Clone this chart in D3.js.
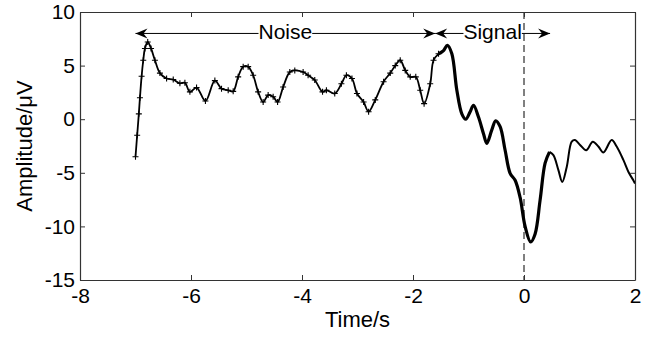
<!DOCTYPE html>
<html>
<head>
<meta charset="utf-8">
<script src="https://cdn.jsdelivr.net/npm/d3@7"></script>
<style>
  body { margin: 0; background: #fff; }
  text { font-family: "Liberation Sans", Arial, sans-serif; }
</style>
</head>
<body>
<div id="chart"></div>
<script>
// noise part (drawn with + markers)
var noiseT = [-7.0,-6.97,-6.94,-6.92,-6.89,-6.86,-6.83,-6.78,-6.72,-6.65,-6.56,-6.44,-6.32,-6.2,-6.11,-6.02,-5.9,-5.74,-5.57,-5.45,-5.33,-5.24,-5.15,-5.06,-4.97,-4.88,-4.79,-4.70,-4.61,-4.52,-4.44,-4.34,-4.22,-4.13,-3.98,-3.89,-3.77,-3.63,-3.56,-3.41,-3.29,-3.2,-3.1,-3.01,-2.89,-2.8,-2.68,-2.53,-2.41,-2.32,-2.23,-2.14,-2.05,-1.95,-1.87,-1.8,-1.69,-1.63,-1.54];
var noiseV = [-3.5,-1.5,0.5,2.0,4.0,5.5,6.6,7.2,6.6,5.5,4.3,3.8,3.7,3.35,3.4,2.55,2.95,1.7,3.6,2.85,2.7,2.6,3.95,4.9,4.9,4.1,2.55,1.6,2.25,2.1,1.6,3.0,4.4,4.55,4.4,4.1,3.65,2.55,2.7,2.4,3.3,4.1,3.8,2.4,1.6,0.7,1.8,3.5,4.3,5.0,5.5,4.55,3.95,3.95,2.7,1.45,3.3,5.5,6.1];

// signal part (thick)
var signalT = [-1.54,-1.45,-1.38,-1.3,-1.21,-1.12,-1.05,-0.97,-0.91,-0.82,-0.73,-0.67,-0.58,-0.51,-0.43,-0.34,-0.25,-0.16,-0.07,0.02,0.12,0.2,0.29,0.38,0.46];
var signalV = [6.1,6.4,6.9,6.1,2.7,0.5,0.0,0.7,1.3,0.2,-1.35,-2.25,-1.0,-0.15,-0.7,-2.9,-5.05,-5.7,-7.3,-10.0,-11.45,-10.7,-7.55,-4.1,-3.05];

// after the signal (thin)
var tailT = [0.46,0.53,0.62,0.69,0.77,0.86,0.92,1.01,1.12,1.24,1.34,1.43,1.58,1.67,1.79,1.88,1.97,2.0];
var tailV = [-3.05,-3.35,-4.75,-5.85,-4.45,-2.1,-1.95,-2.4,-2.9,-2.1,-2.55,-3.1,-1.95,-2.55,-3.8,-4.9,-5.7,-6.0];

var xTicks = [-8,-6,-4,-2,0,2];
var yTicks = [-15,-10,-5,0,5,10];

// annotation arrows: [start, end, label]
var noiseArrow = [-7.0, -1.6, "Noise"];
var signalArrow = [-1.6, 0.47, "Signal"];
var arrowY = 8;

var width = 655, height = 337;
var margin = {top: 12, right: 20, bottom: 57, left: 80};
var w = width - margin.left - margin.right;
var h = height - margin.top - margin.bottom;

var x = d3.scaleLinear().domain([-8, 2]).range([0, w]);
var y = d3.scaleLinear().domain([-15, 10]).range([h, 0]);

var svg = d3.select("#chart").append("svg")
  .attr("width", width)
  .attr("height", height);

var g = svg.append("g")
  .attr("transform", "translate(" + margin.left + "," + margin.top + ")");

function zip(ts, vs) { return ts.map(function(t, i) { return [t, vs[i]]; }); }

var line = d3.line()
  .x(function(d) { return x(d[0]); })
  .y(function(d) { return y(d[1]); })
  .curve(d3.curveCatmullRom);

var noise = zip(noiseT, noiseV);

g.append("path")
  .attr("d", line(zip(tailT, tailV)))
  .attr("fill", "none")
  .attr("stroke", "#000")
  .attr("stroke-width", 2);

g.append("path")
  .attr("d", line(zip(signalT, signalV)))
  .attr("fill", "none")
  .attr("stroke", "#000")
  .attr("stroke-width", 3.2)
  .attr("stroke-linejoin", "round");

g.append("path")
  .attr("d", line(noise))
  .attr("fill", "none")
  .attr("stroke", "#000")
  .attr("stroke-width", 1.8);

g.selectAll(".plus")
  .data(noise)
  .enter().append("path")
  .attr("class", "plus")
  .attr("transform", function(d) { return "translate(" + x(d[0]) + "," + y(d[1]) + ")"; })
  .attr("d", "M-3,0H3M0,-3V3")
  .attr("stroke", "#000")
  .attr("stroke-width", 1.1);

// arrows
function arrowHead(px, dir) {
  // dir = -1 left, +1 right
  var L = 12, W = 5, n = 4;
  return "M" + px + "," + y(arrowY) +
    "L" + (px - dir * L) + "," + (y(arrowY) - W) +
    "L" + (px - dir * (L - n)) + "," + y(arrowY) +
    "L" + (px - dir * L) + "," + (y(arrowY) + W) + "Z";
}

[noiseArrow, signalArrow].forEach(function(a) {
  var x0 = x(a[0]), x1 = x(a[1]);
  g.append("line")
    .attr("x1", x0).attr("x2", x1)
    .attr("y1", y(arrowY)).attr("y2", y(arrowY))
    .attr("stroke", "#000")
    .attr("stroke-width", 1);
  g.append("path").attr("d", arrowHead(x0, -1)).attr("fill", "#000");
  g.append("path").attr("d", arrowHead(x1, 1)).attr("fill", "#000");
  var t = g.append("text")
    .attr("x", (x0 + x1) / 2)
    .attr("y", y(arrowY))
    .attr("dy", "0.27em")
    .attr("text-anchor", "middle")
    .style("font-size", "21px")
    .text(a[2]);
  var bb = t.node().getBBox();
  g.insert("rect", function() { return t.node(); })
    .attr("x", bb.x).attr("y", bb.y + 3)
    .attr("width", bb.width).attr("height", bb.height - 6)
    .attr("fill", "#fff");
});

// dashed line at t = 0
g.append("line")
  .attr("x1", x(0)).attr("x2", x(0))
  .attr("y1", 0).attr("y2", h)
  .attr("stroke", "#000")
  .attr("stroke-width", 1)
  .attr("stroke-dasharray", "7,4");

// axes (box with inward ticks)
var fmt = function(d) { return String(d); };
g.append("g")
  .attr("transform", "translate(0," + h + ")")
  .call(d3.axisBottom(x).tickValues(xTicks).tickFormat(fmt).tickSize(-5).tickPadding(8).tickSizeOuter(0));
g.append("g")
  .call(d3.axisLeft(y).tickValues(yTicks).tickFormat(fmt).tickSize(-5).tickPadding(5).tickSizeOuter(0));
g.append("g")
  .call(d3.axisTop(x).tickValues(xTicks).tickSize(-5).tickFormat("").tickSizeOuter(0));
g.append("g")
  .attr("transform", "translate(" + w + ",0)")
  .call(d3.axisRight(y).tickValues(yTicks).tickSize(-5).tickFormat("").tickSizeOuter(0));

g.selectAll(".domain").attr("stroke", "#333").attr("stroke-width", 1.2);
g.selectAll(".tick line").attr("stroke", "#333");
g.selectAll(".tick text")
  .style("font-size", "21px")
  .style("font-family", "Liberation Sans, Arial, sans-serif")
  .attr("fill", "#000");

svg.append("text")
  .attr("x", margin.left + w / 2)
  .attr("y", 327)
  .attr("text-anchor", "middle")
  .style("font-size", "22px")
  .text("Time/s");

svg.append("text")
  .attr("transform", "translate(32," + (margin.top + h / 2) + ") rotate(-90)")
  .attr("text-anchor", "middle")
  .style("font-size", "22px")
  .text("Amplitude/\u03bcV");
</script>
</body>
</html>
